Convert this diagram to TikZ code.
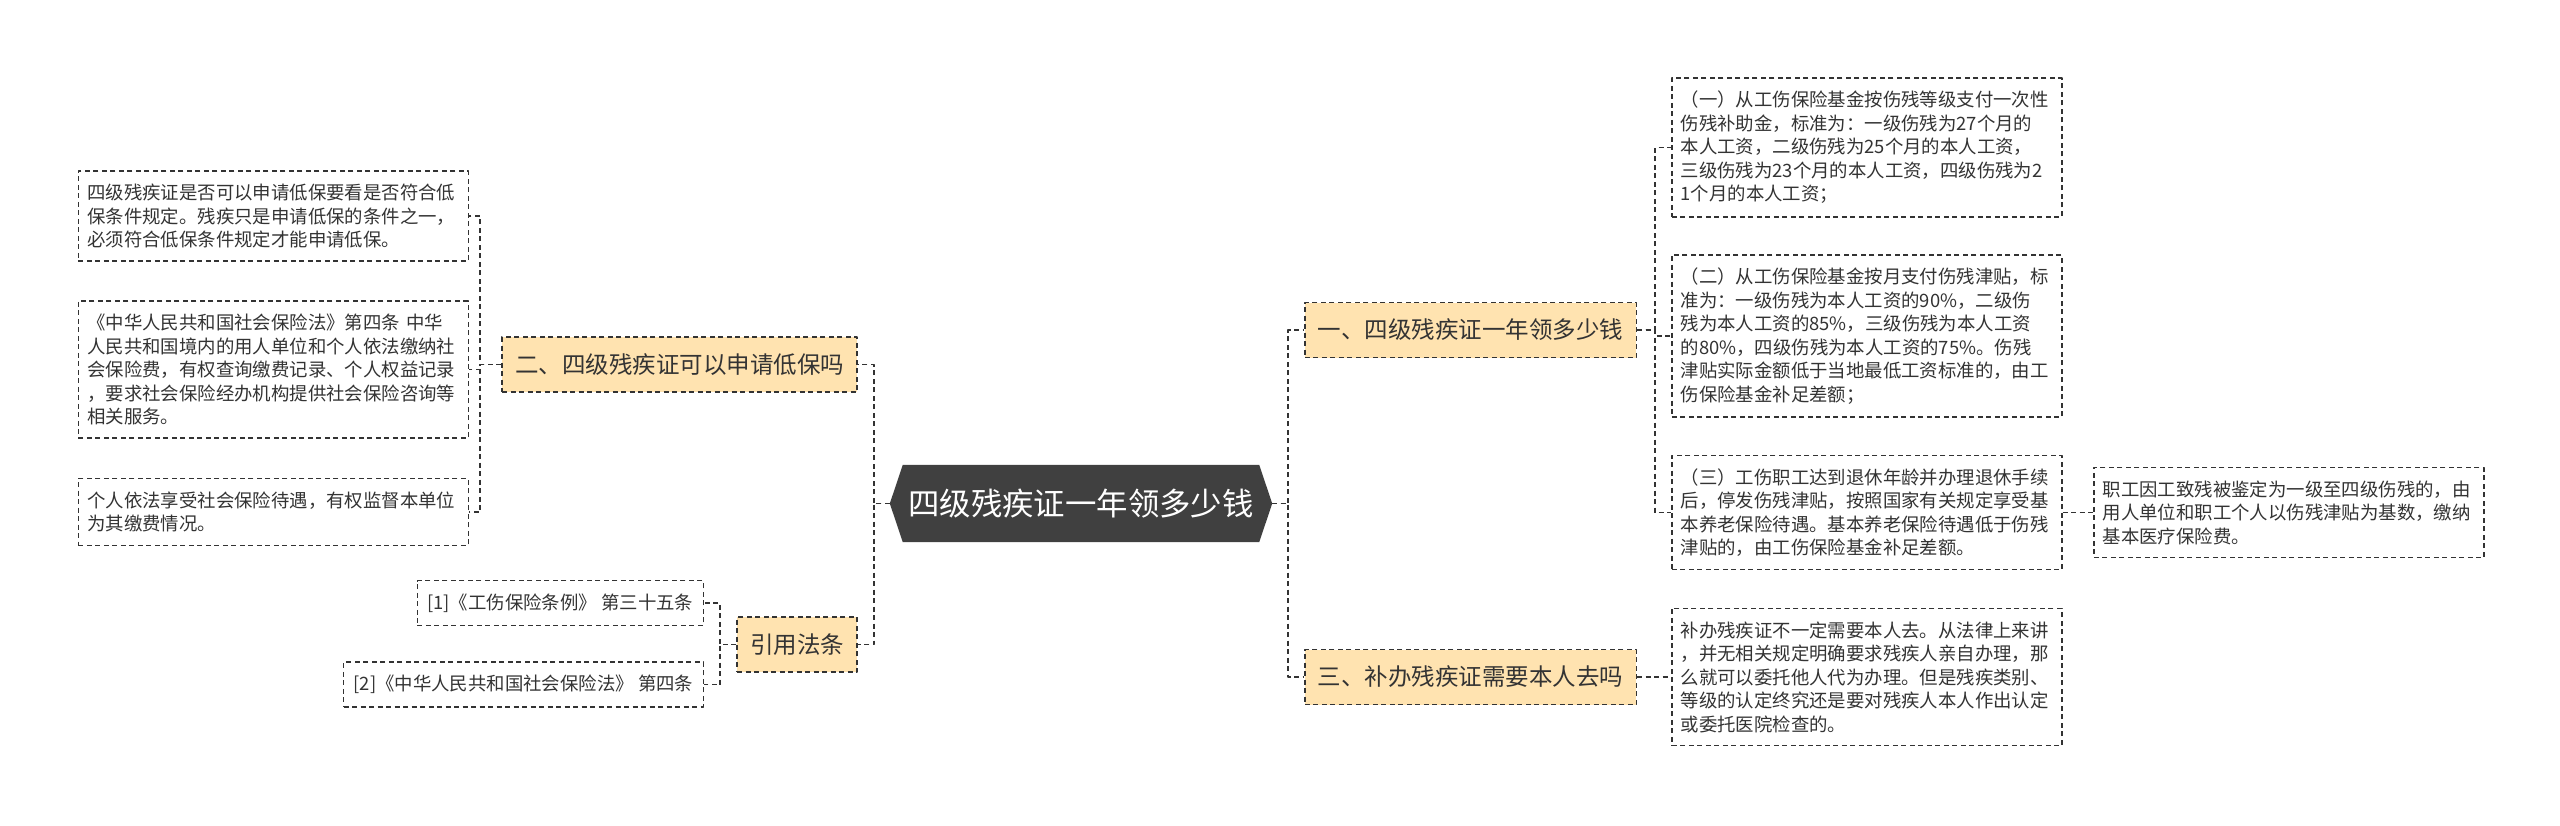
\documentclass[tikz,border=0pt]{standalone}
\usepackage{fontspec}
\setmainfont{Noto Sans CJK SC}
\usetikzlibrary{backgrounds}
\definecolor{inkgray}{HTML}{333333}
\definecolor{rootgray}{HTML}{404040}
\definecolor{topicfill}{HTML}{FFE3B0}
\begin{document}
\begin{tikzpicture}[x=1pt, y=-1pt, line join=round,
  dashline/.style={draw=inkgray, line width=1.7pt, dash pattern=on 5pt off 3.5pt},
  link/.style={dashline},
  root/.style={text=white, font=\fontsize{31.4}{36}\selectfont, minimum width=356pt, minimum height=77pt, inner sep=0pt},
  topic/.style={dashline, fill=topicfill, text=inkgray, font=\fontsize{23.5}{28}\selectfont, minimum height=55pt, inner xsep=13pt},
  leaf/.style={dashline, line width=1.5pt, text=inkgray, font=\fontsize{18.4}{23.5}\selectfont, text width=372pt, inner xsep=9pt, inner ysep=13pt, align=left},
  cite/.style={dashline, line width=1.5pt, text=inkgray, font=\fontsize{18.4}{23.5}\selectfont, inner xsep=10pt, inner ysep=13pt}]
\def\tip{13}
\useasboundingbox (0,0) rectangle (2560,825);
% root
\node[root] (root) at (1081,503.5) {四级残疾证一年领多少钱};
\coordinate (rootW) at ([xshift=-\tip pt]root.west);
\coordinate (rootE) at ([xshift=\tip pt]root.east);
\begin{scope}[on background layer]
\fill[rootgray] (rootW) -- (root.north west) -- (root.north east) -- (rootE) -- (root.south east) -- (root.south west) -- cycle;
\end{scope}
% left side
\node[topic, anchor=east] (low) at (858,364.5) {二、四级残疾证可以申请低保吗};
\node[topic, anchor=east] (law) at (858,644.5) {引用法条};
\node[leaf, anchor=east] (low1) at (469,216) {四级残疾证是否可以申请低保要看是否符合低\\保条件规定。残疾只是申请低保的条件之一，\\必须符合低保条件规定才能申请低保。};
\node[leaf, anchor=east] (low2) at (469,369.5) {《中华人民共和国社会保险法》第四条 中华\\人民共和国境内的用人单位和个人依法缴纳社\\会保险费，有权查询缴费记录、个人权益记录\\，要求社会保险经办机构提供社会保险咨询等\\相关服务。};
\node[leaf, anchor=east] (low3) at (469,512) {个人依法享受社会保险待遇，有权监督本单位\\为其缴费情况。};
\node[cite, anchor=east] (law1) at (704,603) {[1]《工伤保险条例》 第三十五条};
\node[cite, anchor=east] (law2) at (704,684.5) {[2]《中华人民共和国社会保险法》 第四条};
% right side
\node[topic, anchor=west] (pay) at (1304,330) {一、四级残疾证一年领多少钱};
\node[topic, anchor=west] (redo) at (1304,677) {三、补办残疾证需要本人去吗};
\node[leaf, anchor=west] (pay1) at (1671,147.5) {（一）从工伤保险基金按伤残等级支付一次性\\伤残补助金，标准为：一级伤残为27个月的\\本人工资，二级伤残为25个月的本人工资，\\三级伤残为23个月的本人工资，四级伤残为2\\1个月的本人工资；};
\node[leaf, anchor=west] (pay2) at (1671,336) {（二）从工伤保险基金按月支付伤残津贴，标\\准为：一级伤残为本人工资的90\%，二级伤\\残为本人工资的85\%，三级伤残为本人工资\\的80\%，四级伤残为本人工资的75\%。伤残\\津贴实际金额低于当地最低工资标准的，由工\\伤保险基金补足差额；};
\node[leaf, anchor=west] (pay3) at (1671,512.5) {（三）工伤职工达到退休年龄并办理退休手续\\后，停发伤残津贴，按照国家有关规定享受基\\本养老保险待遇。基本养老保险待遇低于伤残\\津贴的，由工伤保险基金补足差额。};
\node[leaf, anchor=west] (med) at (2093,512.5) {职工因工致残被鉴定为一级至四级伤残的，由\\用人单位和职工个人以伤残津贴为基数，缴纳\\基本医疗保险费。};
\node[leaf, anchor=west] (redo1) at (1671,677) {补办残疾证不一定需要本人去。从法律上来讲\\，并无相关规定明确要求残疾人亲自办理，那\\么就可以委托他人代为办理。但是残疾类别、\\等级的认定终究还是要对残疾人本人作出认定\\或委托医院检查的。};
% links
\draw[link] (rootW) -- ++(-16,0) |- (low.east);
\draw[link] (rootW) -- ++(-16,0) |- (law.east);
\draw[link] (rootE) -- ++(16,0) |- (pay.west);
\draw[link] (rootE) -- ++(16,0) |- (redo.west);
\foreach \n in {low1,low2,low3}
  \draw[link] (low.west) -- ++(-21,0) |- (\n.east);
\foreach \n in {law1,law2}
  \draw[link] (law.west) -- ++(-16,0) |- (\n.east);
\foreach \n in {pay1,pay2,pay3}
  \draw[link] (pay.east) -- ++(18,0) |- (\n.west);
\draw[link] (redo.east) -- (redo1.west);
\draw[link] (pay3.east) -- (med.west);
\end{tikzpicture}
\end{document}
